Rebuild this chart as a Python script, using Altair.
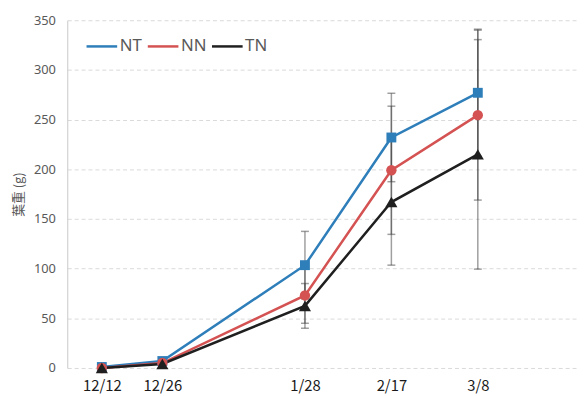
import altair as alt
import pandas as pd

# ---- data ----
dates = ["2019-12-12", "2019-12-26", "2020-01-28", "2020-02-17", "2020-03-08"]
series_names = ["NT", "NN", "TN"]
nt_values = [1, 7, 103.5, 232, 277]
nn_values = [0, 5, 73, 199, 254.5]
tn_values = [0, 4, 62.5, 167, 215]
nt_errors = [0, 0, 34, 44.5, 64]
nn_errors = [0, 0, 28, 64.5, 85.5]
tn_errors = [0, 0, 22.5, 63.5, 115.5]
y_ticks = [0, 50, 100, 150, 200, 250, 300, 350]

colors = ["#2E7EBA", "#D45252", "#1F1F1F"]
point_shapes = ["square", "circle", "triangle-up"]
point_sizes = [100, 110, 150]

rows = []
for name, vals, errs in zip(series_names,
                            [nt_values, nn_values, tn_values],
                            [nt_errors, nn_errors, tn_errors]):
    for d, v, e in zip(dates, vals, errs):
        rows.append({"date": d, "series": name, "value": v, "err": e,
                     "low": v - e, "high": v + e})
df = pd.DataFrame(rows)


def to_dt(s, hours=0):
    t = pd.Timestamp(s)
    return alt.DateTime(year=t.year, month=t.month, date=t.day, hours=hours, utc=True)


x_enc = alt.X(
    "date:T",
    scale=alt.Scale(type="utc", domain=[to_dt("2019-12-04"), to_dt("2020-03-31", 10)]),
    axis=alt.Axis(values=[to_dt(d) for d in dates],
                  labelExpr="utcFormat(datum.value, '%-m/%-d')",
                  grid=False, domain=False, ticks=False, labelFont="Noto Sans CJK JP",
                  labelFontSize=15, labelColor="#1a1a1a", labelPadding=11, title=None),
)
y_scale = alt.Scale(domain=[0, 350], nice=False, zero=True)
y_axis = alt.Axis(values=y_ticks, grid=True, gridColor="#d9d9d9", gridDash=[4, 3],
                  domain=True, domainColor="#c8c8c8", ticks=False, labelFont="Noto Sans",
                  labelFontSize=13, labelColor="#595959", labelPadding=12,
                  title="葉重 (g)", titleFont="Noto Sans CJK JP", titleFontSize=13,
                  titleFontWeight="normal", titleColor="#595959", titlePadding=8)

base = alt.Chart(df)

err_rules = base.transform_filter("datum.err > 0").mark_rule(
    color="#404040", opacity=0.5, strokeWidth=1.5
).encode(x=x_enc, y=alt.Y("low:Q", scale=y_scale, axis=y_axis), y2="high:Q")

err_caps = base.transform_filter("datum.err > 0").transform_fold(
    ["low", "high"], as_=["end", "yv"]
).mark_tick(orient="horizontal", size=8, thickness=1.5, color="#404040", opacity=0.5
).encode(x=x_enc, y=alt.Y("yv:Q", scale=y_scale))

color_scale = alt.Scale(domain=series_names, range=colors)

legend_lines = alt.Legend(
    title=None, orient="none", legendX=18, legendY=9.5, direction="horizontal",
    labelFont="Noto Sans", labelFontSize=17, labelColor="#595959",
    symbolStrokeWidth=2.5, symbolSize=961, labelOffset=1, columnPadding=0,
)

lines = base.mark_line(strokeWidth=2.5).encode(
    x=x_enc,
    y=alt.Y("value:Q", scale=y_scale),
    color=alt.Color("series:N", scale=color_scale, legend=legend_lines),
)

point_layers = []
for name, col, shp, sz in zip(series_names, colors, point_shapes, point_sizes):
    point_layers.append(
        base.transform_filter(alt.datum.series == name).mark_point(
            shape=shp, filled=True, size=sz, opacity=1, color=col
        ).encode(x=x_enc, y=alt.Y("value:Q", scale=y_scale))
    )

chart = alt.layer(err_rules, err_caps, lines, *point_layers).properties(
    width=518, height=352,
    padding={"left": 60, "top": 10, "right": 0, "bottom": 30},
    autosize=alt.AutoSizeParams(type="none"),
).configure_view(stroke=None)

chart.save("out.html", embed_options={"renderer": "svg", "actions": False})
